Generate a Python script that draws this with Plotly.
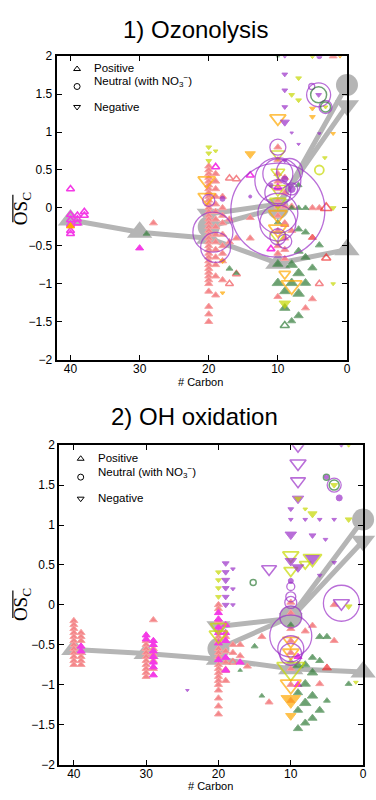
import plotly.graph_objects as go

W, H = 376, 800

# ---------------- 1) Ozonolysis ----------------
oz_salmon = [
    (20, 0.55), (20, 0.5), (20, 0.45), (20, 0.4), (20, 0.35), (20, 0.3), (20, 0.25), (20, 0.2),
    (20, 0.15), (20, 0.1), (20, 0.05), (20, 0.0), (20, -0.05), (20, -0.1), (20, -0.15), (20, -0.2),
    (20, -0.25), (20, -0.3), (20, -0.35), (20, -0.4), (20, -0.45), (20, -0.5), (20, -0.55), (20, -0.6),
    (20, -0.65), (20, -0.7), (20, -0.75), (20, -0.8), (20, -0.85), (20, -0.9), (20, -0.95), (20, -1.0),
    (20, -1.1), (20, -1.3), (20, -1.4), (20, -1.5),
    (19, 0.45), (19, 0.35), (19, 0.25), (19, 0.15), (19, 0.05), (19, -0.05), (19, -0.15), (19, -0.25),
    (19, -0.35), (19, -0.45), (19, -0.55), (19, -0.65), (19, -0.75), (19, -0.9), (19, -1.15),
    (18, 0.15), (18, 0.0), (18, -0.1), (18, -0.2), (18, -0.35), (18, -0.5), (18, -0.6), (18, -0.7), (18, -0.95),
    (17, -0.15), (17, -0.45), (16, -0.4), (14, -0.13), (14, -0.4), (28, -0.2),
    (10, 0.8), (10, 0.63), (10, 0.45), (10, 0.35), (10, 0.25), (10, 0.1), (10, 0.02), (10, -0.1),
    (10, -0.3), (10, -0.5), (10, -0.6), (10, -1.17),
    (9, 0.4), (9, 0.2), (9, 0.02), (9, -0.2), (9, -0.4), (9, -0.55), (9, -0.67),
    (8, 0.02), (8, -0.3), (5, 0.0), (5, -1.2), (4, 0.0), (6, -1.32), (2, 2.0),
]
oz_salmon_open = [(17, 0.39), (16, -0.87), (17, -1.0), (4, -1.0), (9, -0.22), (16, 0.38)]
oz_magenta_open = [
    (40, 0.25), (40, -0.09), (40, -0.16), (40, -0.22), (40, -0.3), (40, -0.34),
    (39, -0.1), (39, -0.15), (39, -0.2), (38, -0.05), (38, -0.1),
    (19, 0.54), (14, 0.43), (11, -0.54), (10, 0.27),
]
oz_magenta = [(30, -0.53)]
oz_orange_up = [(40, -0.24)]
oz_green = [
    (29, -0.34, 6), (17, -0.8, 6), (16, -0.86, 5), (8, 0.0, 6), (7, 0.0, 6), (6, 0.0, 6), (7, 0.3, 6),
    (10, -0.19, 6), (7, -0.28, 7), (6, -0.32, 7), (4, -0.49, 7), (7, -0.57, 8), (6, -0.65, 8),
    (10, -0.74, 9), (8, -0.75, 10), (5, -0.79, 8), (7, -0.86, 10), (10, -0.99, 10), (8, -0.99, 10),
    (6, -0.99, 9), (9, -1.1, 9), (7, -1.13, 10), (9, -1.32, 9), (7, -1.42, 8), (8, -1.49, 7), (10, 2.0, 3),
]
oz_green_open = [(9, -1.55, 8)]
oz_red = [(5, -0.39, 7)]
oz_red_open = [(3, 0.0, 10), (3, -0.66, 8)]
oz_purple_down = [
    (9, 2.0, 4), (9, 1.76, 5), (9, 1.55, 5), (9, 1.33, 5), (9, 1.13, 8), (8, 0.99, 3), (4, 0.98, 3),
    (7, 0.84, 3), (4.1, 1.49, 5), (9, 0.62, 4),
]
oz_purple_dot = [(4, 2.0, 5), (8, 0.25, 7), (9, 0.38, 6), (18, 0.12, 5), (14, 0.15, 3), (11, 0.3, 4)]
oz_yg_down = [
    (5, 2.0, 5), (7, 1.71, 5), (8, 1.49, 5), (7, 1.42, 5), (20, 0.8, 5), (20, 0.72, 5), (20, 0.62, 5),
    (19, 0.75, 4), (2, 0.0, 5), (2, -1.0, 4), (3.2, 0.66, 4), (3.1, 1.33, 4), (9, -1.26, 10),
]
oz_yg_down_open = [(10, 0.71, 12), (10, 0.47, 12), (10, 0.25, 14), (10, 0.08, 14), (10, -0.37, 14)]
oz_orange_down = [(1, 2.0, 4), (5, 1.31, 5), (5, 1.2, 5), (2, 0.98, 4), (18, -0.7, 5), (18, -1.12, 4), (14, 0.71, 9)]
oz_orange_down_open = [
    (10, 1.18, 14), (20.3, 0.36, 15), (20.3, 0.14, 15), (10, -0.09, 16), (10, -0.28, 16),
    (8, -1.02, 18), (9, -0.87, 10),
]
oz_purple_ring = [
    (10, 0.8, 16), (10, 0.45, 30), (8.3, 0.48, 26), (10, 0.36, 46), (10, 0.2, 26), (10, -0.03, 94),
    (10, -0.07, 40), (10, -0.2, 36), (10, -0.38, 16), (9, -0.44, 14), (8, 0.25, 12), (20, 0.1, 12),
    (19.4, -0.32, 40), (19, -0.52, 30), (4.1, 1.49, 24), (5.1, 1.6, 6), (3.1, 1.33, 13),
]
oz_green_ring = [(4.1, 1.49, 16), (3.1, 1.33, 10)]
oz_yg_ring = [(4, 0.5, 9)]

oz_mean_c = [40, 30, 20, 10, 0]
oz_mean_pos = [-0.16, -0.32, -0.4, -0.73, -0.55]
oz_mean_c3 = [20, 10, 0]
oz_mean_neu = [-0.25, 0.0, 1.62]
oz_mean_neg = [-0.08, 0.05, 1.35]

# ---------------- 2) OH oxidation ----------------
oh_salmon = [
    (40, -0.2), (40, -0.25), (40, -0.3), (40, -0.35), (40, -0.4), (40, -0.45), (40, -0.5), (40, -0.55),
    (40, -0.6), (40, -0.65), (40, -0.7), (40, -0.75),
    (39, -0.35), (39, -0.4), (39, -0.45), (39, -0.6), (39, -0.65), (39, -0.7), (39, -0.75),
    (30, -0.45), (30, -0.5), (30, -0.55), (30, -0.6), (30, -0.65), (30, -0.7), (30, -0.75), (30, -0.8),
    (30, -0.85), (30, -0.9),
    (29, -0.19), (29, -0.55), (29, -0.62), (29, -0.7), (29, -0.8),
    (20, 0.0), (20, -0.05), (20, -0.2), (20, -0.4), (20, -0.45), (20, -0.55), (20, -0.6), (20, -0.65),
    (20, -0.75), (20, -0.8), (20, -0.85), (20, -0.9), (20, -0.95), (20, -1.0), (20, -1.07), (20, -1.17),
    (20, -1.27), (20, -1.37),
    (19, -0.4), (19, -0.58), (19, -0.72), (19, -0.95), (18, -0.5), (18, -0.6), (17, -0.5), (17, -0.64),
    (16, -0.77), (14, -0.4), (13, -1.22),
    (10, 0.03), (10, -0.1), (10, -0.3), (10, -0.45), (10, -0.6), (10, -0.8), (10, -1.0), (10, -1.2),
    (8, -0.33), (7, -0.26), (4, -0.45), (4, 0.0), (6, -0.99),
]
oh_salmon_open = [(18, -0.72), (19, -0.82)]
oh_magenta = [
    (39, -0.52), (39, -0.58), (30, -0.38), (30, -0.43),
    (29, -0.45), (29, -0.5), (29, -0.58), (29, -0.65), (29, -0.72), (29, -0.78), (29, -0.88),
    (20, -0.1), (20, -0.18), (20, -0.28), (20, -0.35), (20, -0.48), (20, -0.69),
    (19, -0.25), (19, -0.35), (19, -0.45), (19, -0.66), (19, -0.82), (17, -0.72),
    (9, -0.65), (9, -1.0),
]
oh_green = [
    (15, -0.52, 6), (17, -0.82, 4), (14, -1.14, 5), (6, -0.4, 7), (5, -0.4, 7), (7, -0.66, 7),
    (8, -0.75, 8), (9, -0.76, 9), (7, -0.85, 9), (6, -0.7, 7), (2, -0.99, 6), (8, -0.99, 9),
    (9, -1.1, 8), (7, -1.14, 9), (8, -1.23, 10), (5, -1.2, 6), (9, -1.32, 8), (6, -1.32, 8),
    (7, -1.42, 8), (8, -1.48, 8), (9, -1.55, 8), (10, -0.25, 6),
]
oh_red = [(5, -0.79, 8)]
oh_purple_down_open = [(9, 2.0, 14), (9, 1.77, 14), (9, 1.55, 13), (13, 0.45, 13), (3, 0.02, 14)]
oh_purple_down = [
    (9, 1.33, 10), (10, 0.88, 10), (9, 0.47, 10), (7, 0.58, 12), (10, 1.2, 5), (10, 1.07, 4), (7, 0.87, 6),
    (5.2, 0.82, 4), (4, 0.53, 4), (6, 0.37, 4), (19, 0.52, 6), (19, 0.41, 6), (19, 0.31, 7),
    (19, 0.21, 6), (19, 0.1, 6), (19, 0.0, 6), (18, 0.45, 4), (18, 0.2, 4), (18, 0.0, 4), (3, 2.0, 4),
    (10, 0.55, 10), (4, 1.07, 4), (6, 1.07, 4), (8, 1.07, 4), (24.3, -1.07, 3),
]
oh_yg_down = [
    (20, 0.41, 5), (20, 0.31, 5), (20, 0.21, 5), (20, 0.1, 5), (7, 1.14, 8), (2, 1.07, 6), (4, 1.5, 6),
    (1, -0.97, 4), (2, -0.02, 6), (8, 1.2, 4), (2, 2.0, 4), (9, 1.33, 6),
]
oh_yg_down_open = [
    (20, -0.28, 14), (20, -0.38, 16), (10, -0.8, 24), (10, 0.62, 14), (8, 0.51, 10), (10, 0.43, 12),
    (7, 0.58, 16),
]
oh_orange_down_open = [(10, -1.0, 18), (10, -0.6, 14), (10, -0.45, 14)]
oh_orange_down = [(10, -1.19, 17), (10, -1.39, 9)]
oh_purple_ring = [
    (4, 1.5, 14), (10, 0.23, 8), (10, 0.1, 10), (10, 0.03, 12), (10, -0.15, 22), (10, -0.39, 42),
    (10, -0.55, 26), (10, -0.62, 22), (3, 0.02, 36),
]
oh_green_ring = [(4, 1.5, 10), (15.2, 0.28, 6), (5.07, 1.6, 6)]
oh_purple_dot = [(3.3, 1.34, 6), (5.07, 1.6, 4), (10, 0.3, 5)]

oh_mean_c = [40, 30, 20, 10, 0]
oh_mean_pos = [-0.56, -0.61, -0.68, -0.8, -0.84]
oh_mean_c3 = [20, 10, 0]
oh_mean_neu = [-0.55, -0.15, 1.07]
oh_mean_neg = [-0.27, -0.17, 0.8]

# legend key rows (y values on each panel)
key_labels = ["Positive", "Neutral (with NO<sub>3</sub><sup>\u2212</sup>)", "Negative"]
key_symbols = ["triangle-up-open", "circle-open", "triangle-down-open"]
key_y = [1.83, 1.6, 1.33]

SALMON = "#F4868A"
MAGENTA = "#F43BE6"
GREEN = "#2E7A36"
PURPLE = "#9B30C8"
YG = "#C6D800"
ORANGE = "#FFA800"
RED = "#EE2C2C"
GRAY = "#B5B5B5"

fig = go.Figure()


def add(points, ax, color, symbol, size=7, lw=1.0, line_color=None, clip=True):
    xs = [p[0] for p in points]
    ys = [p[1] for p in points]
    ss = [p[2] for p in points] if len(points[0]) > 2 else size
    fig.add_trace(go.Scatter(
        x=xs, y=ys, mode="markers", xaxis="x" + ax, yaxis="y" + ax, cliponaxis=clip,
        marker=dict(symbol=symbol, size=ss, color=color,
                    line=dict(color=line_color or color, width=lw)),
        showlegend=False, hoverinfo="skip"))


def add_means(ax, c5, pos, c3, neu, neg):
    for xs, ys, sym, sz in ((c3, neg, "triangle-down", 21), (c3, neu, "circle", 22), (c5, pos, "triangle-up", 22)):
        fig.add_trace(go.Scatter(
            x=xs, y=ys, mode="lines+markers", xaxis="x" + ax, yaxis="y" + ax, cliponaxis=False,
            line=dict(color=GRAY, width=5),
            marker=dict(symbol=sym, size=sz, color=GRAY, line=dict(width=0)),
            showlegend=False, hoverinfo="skip"))


for ax, c5, pos, c3, neu, neg in (("", oz_mean_c, oz_mean_pos, oz_mean_c3, oz_mean_neu, oz_mean_neg),
                                  ("2", oh_mean_c, oh_mean_pos, oh_mean_c3, oh_mean_neu, oh_mean_neg)):
    add_means(ax, c5, pos, c3, neu, neg)

# ozonolysis marks
add(oz_salmon, "", SALMON, "triangle-up", 7, 1, "#F7A3A3")
add(oz_salmon_open, "", SALMON, "triangle-up-open", 7, 1.5)
add(oz_magenta_open, "", MAGENTA, "triangle-up-open", 7, 1.6)
add(oz_magenta, "", MAGENTA, "triangle-up", 7)
add(oz_orange_up, "", ORANGE, "triangle-up", 7)
add(oz_green, "", GREEN, "triangle-up", 7, 1, "#4A8C50")
add(oz_green_open, "", GREEN, "triangle-up-open", 7, 1.6)
add(oz_red, "", RED, "triangle-up", 7)
add(oz_red_open, "", RED, "triangle-up-open", 7, 1.6)
add(oz_yg_down_open, "", YG, "triangle-down-open", 7, 1.6)
add(oz_orange_down_open, "", ORANGE, "triangle-down-open", 7, 1.8)
add(oz_yg_down, "", YG, "triangle-down", 5)
add(oz_orange_down, "", ORANGE, "triangle-down", 5)
add(oz_purple_down, "", PURPLE, "triangle-down", 5)
add(oz_purple_dot, "", PURPLE, "circle", 5)
add(oz_purple_ring, "", PURPLE, "circle-open", 10, 1.3)
add(oz_green_ring, "", GREEN, "circle-open", 10, 1.5)
add(oz_yg_ring, "", YG, "circle-open", 9, 1.8)

# OH oxidation marks
add(oh_salmon, "2", SALMON, "triangle-up", 7, 1, "#F7A3A3")
add(oh_salmon_open, "2", SALMON, "triangle-up-open", 7, 1.5)
add(oh_magenta, "2", MAGENTA, "triangle-up", 7)
add(oh_green, "2", GREEN, "triangle-up", 7, 1, "#4A8C50")
add(oh_red, "2", RED, "triangle-up", 7)
add(oh_yg_down_open, "2", YG, "triangle-down-open", 7, 1.8)
add(oh_orange_down_open, "2", ORANGE, "triangle-down-open", 7, 1.8)
add(oh_orange_down, "2", ORANGE, "triangle-down", 7)
add(oh_purple_down_open, "2", PURPLE, "triangle-down-open", 7, 1.6)
add(oh_purple_down, "2", PURPLE, "triangle-down", 5)
add(oh_yg_down, "2", YG, "triangle-down", 5)
add(oh_purple_ring, "2", PURPLE, "circle-open", 10, 1.3)
add(oh_green_ring, "2", GREEN, "circle-open", 10, 1.5)
add(oh_purple_dot, "2", PURPLE, "circle", 5)

# legend keys drawn inside each panel
for ax in ("", "2"):
    fig.add_trace(go.Scatter(
        x=[39.05] * 3, y=key_y, mode="markers", xaxis="x" + ax, yaxis="y" + ax,
        marker=dict(symbol=key_symbols, size=6, color="black", line=dict(width=1, color="black")),
        showlegend=False, hoverinfo="skip"))

FONT = "Liberation Sans, Arial, sans-serif"
axis_common = dict(showgrid=False, zeroline=False, showline=True, linecolor="black",
                   linewidth=2, mirror="ticks", ticks="inside", ticklen=5, tickwidth=1,
                   tickcolor="black", tickfont=dict(family=FONT, size=12, color="black"))

fig.update_layout(
    width=W, height=H, margin=dict(l=0, r=0, t=0, b=0),
    paper_bgcolor="white", plot_bgcolor="white",
    xaxis=dict(axis_common, range=[42, 0], tickvals=[40, 30, 20, 10, 0], ticklabelstandoff=-3,
               domain=[57.3 / W, 350.7 / W], anchor="y"),
    yaxis=dict(axis_common, range=[-2, 2], dtick=0.5,
               domain=[1 - 359 / H, 1 - 50 / H], anchor="x"),
    xaxis2=dict(axis_common, range=[42, 0], tickvals=[40, 30, 20, 10, 0], ticklabelstandoff=-3,
                domain=[60 / W, 367 / W], anchor="y2"),
    yaxis2=dict(axis_common, range=[-2, 2], dtick=0.5,
                domain=[1 - 771 / H, 1 - 446 / H], anchor="x2"),
)


def px_note(text, x, y, size, xanchor="center", angle=0, family=FONT):
    fig.add_annotation(text=text, x=x / W, y=1 - y / H, xref="paper", yref="paper",
                       xanchor=xanchor, yanchor="middle", showarrow=False, textangle=angle,
                       font=dict(family=family, size=size, color="black"))


px_note("1) Ozonolysis", 198, 23, 24)
px_note("2) OH oxidation", 197, 417, 24)
px_note("# Carbon", 203, 382, 11)
px_note("# Carbon", 213, 793, 11)

for kx, rows in ((93, (62, 75, 102)), (97, (459, 473, 500))):
    for lab, ry in zip(key_labels, rows):
        px_note(lab, kx, ry, 11.5, xanchor="left")

for cy in (205, 608):
    px_note("OS<sub>C</sub>", 23, cy, 19, angle=-90, family="Liberation Serif, Times New Roman, serif")
    fig.add_shape(type="line", xref="paper", yref="paper",
                  x0=13 / W, x1=13 / W, y0=1 - (cy - 14) / H, y1=1 - (cy + 14) / H,
                  line=dict(color="black", width=1.2))

fig.write_html("out.html")
